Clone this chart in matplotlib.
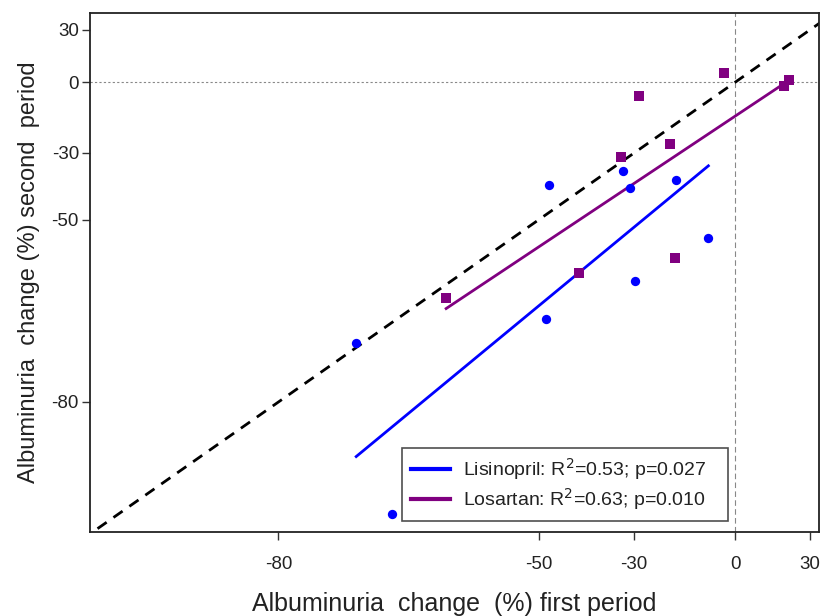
import numpy as np
import matplotlib
matplotlib.use("Agg")
import matplotlib.pyplot as plt

plt.rcParams['font.family'] = ['Liberation Sans', 'DejaVu Sans']

# Data (percent change)
lis_x = [-73.7, -70.2, -48.1, -48.6, -32.6, -31.1, -29.9, -18.8, -9.1]
lis_y = [-73.1, -88.6, -40.4, -69.6, -36.1, -41.3, -63.2, -38.9, -54.3]
los_x = [-63.9, -42.3, -33.1, -28.7, -20.5, -19.3, -4.1, 18.8, 20.9]
los_y = [-66.2, -61.7, -31.4, -6.8, -26.8, -58.7, 4.6, -2.0, 1.0]

# Fitted regression lines (endpoints)
lis_fit_x = [-73.7, -9.1]
lis_fit_y = [-84.8, -34.4]
los_fit_x = [-63.9, 20.9]
los_fit_y = [-68.0, 1.0]

ticks = [-80, -50, -30, 0, 30]
tick_labels = ['-80', '-50', '-30', '0', '30']
lis_label = 'Lisinopril: R$^2$=0.53; p=0.027'
los_label = 'Losartan: R$^2$=0.63; p=0.010'

def fwd(v):
    return np.log(np.clip(1 + np.asarray(v) / 100.0, 1e-6, None))

def inv(v):
    return (np.exp(v) - 1) * 100.0

fig = plt.figure(figsize=(8.23, 6.16), dpi=100)
ax = fig.add_axes([90/823, 1-532/616, (819-90)/823, (532-13)/616])
ax.set_xscale('function', functions=(fwd, inv))
ax.set_yscale('function', functions=(fwd, inv))

xlo, xhi = -89.7, 34.2
ylo, yhi = -89.6, 41.5
ax.set_xlim(xlo, xhi)
ax.set_ylim(ylo, yhi)

# reference lines
ax.axhline(0, color='#888888', lw=0.8, ls=(0, (2, 2)), zorder=1)
ax.axvline(0, color='#888888', lw=0.8, ls=(0, (5, 3)), zorder=1)
idl = np.array([-90, 45])
ax.plot(idl, idl, color='black', lw=2, ls=(0, (4, 3)), zorder=2)

ax.plot(lis_fit_x, lis_fit_y, color='#0000FF', lw=2, zorder=3, label=lis_label)
ax.plot(los_fit_x, los_fit_y, color='#800080', lw=2, zorder=3, label=los_label)

ax.scatter(lis_x, lis_y, marker='o', s=45, color='#0000FF', zorder=4, linewidths=0)
ax.scatter(los_x, los_y, marker='s', s=60, color='#800080', zorder=4, linewidths=0)

ax.set_xticks(ticks)
ax.set_xticklabels(tick_labels)
ax.set_yticks(ticks)
ax.set_yticklabels(tick_labels)
ax.minorticks_off()
ax.tick_params(axis='both', which='major', labelsize=13.5, length=6, width=1,
               color='#333333', labelcolor='#222222', direction='out')
ax.tick_params(axis='x', pad=11)
ax.tick_params(axis='y', pad=2)
for s in ax.spines.values():
    s.set_color('#222222')
    s.set_linewidth(1.3)

ax.set_xlabel('Albuminuria  change  (%) first period', fontsize=18, color='#222222', labelpad=14)
ax.set_ylabel('Albuminuria  change (%) second  period', fontsize=17, color='#222222', labelpad=8)

leg = ax.legend(loc='lower left', bbox_to_anchor=((402-90)/729, (532-521)/519, (728-402)/729, (521-447)/519),
                mode='expand', fontsize=14, frameon=True, fancybox=False, handlelength=2.0,
                handletextpad=0.7, borderaxespad=0, borderpad=0.45, labelspacing=0.2)
leg.get_frame().set_edgecolor('#222222')
leg.get_frame().set_linewidth(1.2)
for t in leg.get_texts():
    t.set_color('#222222')
for l in leg.get_lines():
    l.set_linewidth(3)

fig.savefig('out.png', dpi=100)
